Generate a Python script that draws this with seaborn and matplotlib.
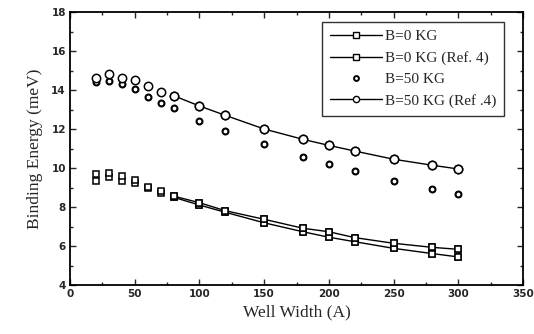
import matplotlib
matplotlib.use("Agg")
import matplotlib.pyplot as plt
from matplotlib.lines import Line2D
from matplotlib.ticker import MultipleLocator
import seaborn as sns
import pandas as pd

# ---- data ----
well_width = [20, 30, 40, 50, 60, 70, 80, 100, 120, 150, 180, 200, 220, 250, 280, 300]
b0_calc = [9.35, 9.52, 9.35, 9.21, 9.00, 8.73, 8.50, 8.10, 7.73, 7.19, 6.73, 6.45, 6.22, 5.88, 5.61, 5.44]
b0_ref4 = [9.69, 9.76, 9.61, 9.38, 9.05, 8.82, 8.56, 8.22, 7.81, 7.37, 6.91, 6.73, 6.43, 6.14, 5.93, 5.83]
b50_calc = [14.43, 14.48, 14.31, 14.04, 13.66, 13.35, 13.06, 12.39, 11.90, 11.21, 10.58, 10.21, 9.83, 9.35, 8.91, 8.67]
b50_ref4 = [14.63, 14.82, 14.63, 14.51, 14.21, 13.91, 13.71, 13.18, 12.70, 12.00, 11.47, 11.16, 10.87, 10.45, 10.14, 9.95]
line_start = 80  # connecting lines are drawn from this width on

labels = ["B=0 KG", "B=0 KG (Ref. 4)", "B=50 KG", "B=50 KG (Ref .4)"]
x_ticks = [0, 50, 100, 150, 200, 250, 300, 350]
y_ticks = [4, 6, 8, 10, 12, 14, 16, 18]

df = pd.DataFrame({"w": well_width, "b0": b0_calc, "b0r": b0_ref4,
                   "b50": b50_calc, "b50r": b50_ref4})
df_line = df[df["w"] >= line_start]

sns.set_style("ticks")
plt.rcParams["font.family"] = ["DejaVu Sans"]

fig = plt.figure(figsize=(5.34, 3.34), dpi=100)
ax = fig.add_axes([70 / 534, 1 - 285 / 334, 453 / 534, 273 / 334])

sq = dict(marker="s", markersize=5, markerfacecolor="white", markeredgecolor="black",
          markeredgewidth=1.1)
ci = dict(marker="o", markersize=6, markerfacecolor="white", markeredgecolor="black",
          markeredgewidth=1.1)

for col in ["b0", "b0r"]:
    sns.lineplot(data=df_line, x="w", y=col, ax=ax, color="black", linewidth=1.0,
                 **sq)
    ax.plot(df["w"], df[col], linestyle="none", **sq)

sns.lineplot(data=df_line, x="w", y="b50r", ax=ax, color="black", linewidth=1.0, **ci)
ax.plot(df["w"], df["b50r"], linestyle="none", **ci)
sns.scatterplot(data=df, x="w", y="b50", ax=ax, marker="o", s=18,
                facecolor="white", edgecolor="black", linewidth=1.5)

ax.set_xlim(0, 350)
ax.set_ylim(4, 18)
ax.set_xticks(x_ticks)
ax.set_yticks(y_ticks)
ax.xaxis.set_minor_locator(MultipleLocator(25))
ax.yaxis.set_minor_locator(MultipleLocator(1))
ax.tick_params(which="both", direction="in", top=True, right=True, width=1.0)
ax.tick_params(which="major", length=4, labelsize=7.5, pad=3)
ax.tick_params(which="minor", length=2.5)
for lab in ax.get_xticklabels() + ax.get_yticklabels():
    lab.set_fontweight("bold")
for sp in ax.spines.values():
    sp.set_linewidth(1.3)
    sp.set_color("black")

serif = ["Liberation Serif", "DejaVu Serif"]
ax.set_xlabel("Well Width (A)", fontsize=12.5, family=serif, labelpad=4)
ax.set_ylabel("Binding Energy (meV)", fontsize=12.5, family=serif, labelpad=6)

handles = [
    Line2D([], [], color="black", linewidth=1.0, marker="s", markersize=4,
           markerfacecolor="white", markeredgecolor="black"),
    Line2D([], [], color="black", linewidth=1.0, marker="s", markersize=4,
           markerfacecolor="white", markeredgecolor="black"),
    Line2D([], [], linestyle="none", marker="o", markersize=3.5,
           markerfacecolor="white", markeredgecolor="black", markeredgewidth=1.4),
    Line2D([], [], color="black", linewidth=1.0, marker="o", markersize=4.5,
           markerfacecolor="white", markeredgecolor="black"),
]
leg = ax.legend(handles, labels, loc="upper right", bbox_to_anchor=(0.958, 0.963),
                prop={"family": serif, "size": 11}, frameon=True, fancybox=False,
                edgecolor="black", handlelength=3.4, handletextpad=0.2,
                borderpad=0.5, labelspacing=0.5, borderaxespad=0)
leg.get_frame().set_linewidth(1.0)

fig.savefig("out.png", dpi=100)
